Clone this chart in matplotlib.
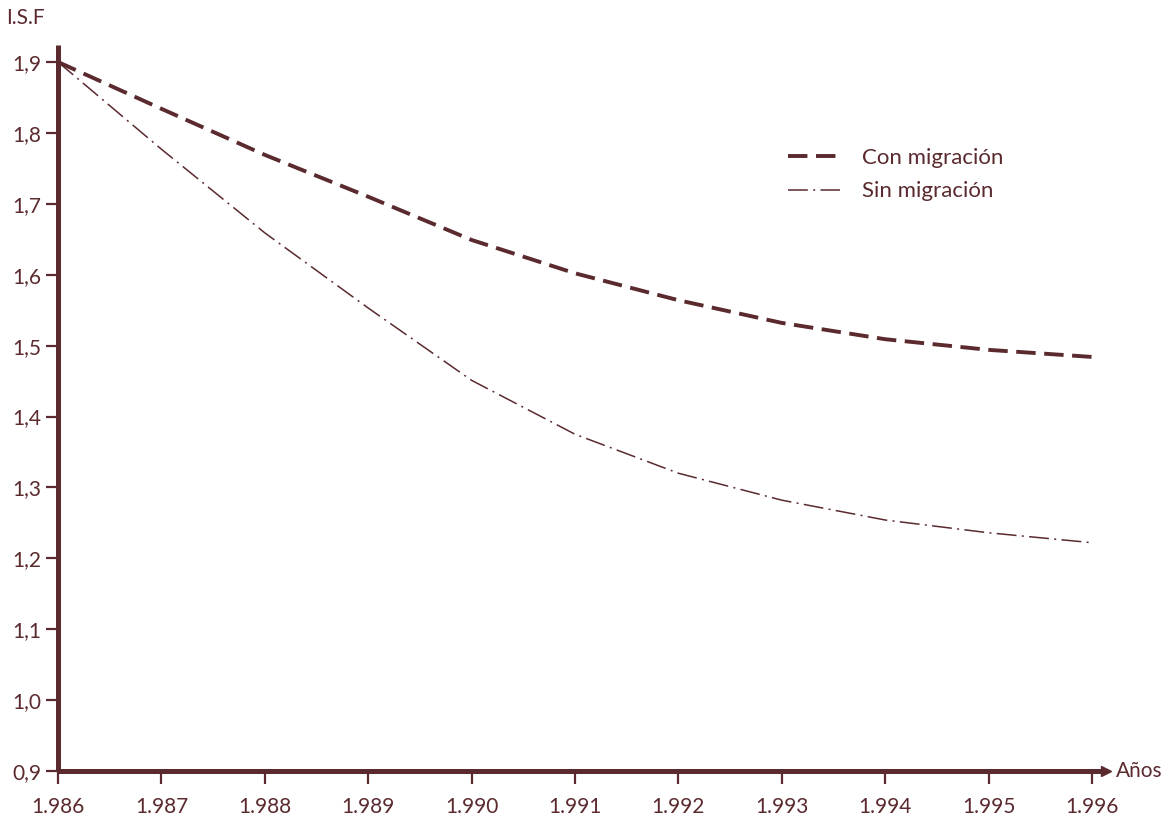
import matplotlib.pyplot as plt
import numpy as np

# Values (I.S.F by year)
years = [1986, 1987, 1988, 1989, 1990, 1991, 1992, 1993, 1994, 1995, 1996]
con_migracion = [1.900, 1.834, 1.769, 1.710, 1.649, 1.602, 1.564, 1.532, 1.509, 1.494, 1.484]
sin_migracion = [1.900, 1.777, 1.659, 1.553, 1.451, 1.375, 1.320, 1.282, 1.254, 1.236, 1.222]

y_ticks = [0.9, 1.0, 1.1, 1.2, 1.3, 1.4, 1.5, 1.6, 1.7, 1.8, 1.9]
y_labels = ["0,9", "1,0", "1,1", "1,2", "1,3", "1,4", "1,5", "1,6", "1,7", "1,8", "1,9"]
x_labels = ["1.986", "1.987", "1.988", "1.989", "1.990", "1.991",
            "1.992", "1.993", "1.994", "1.995", "1.996"]

ink = "#5a2a2e"
plt.rcParams["font.family"] = ["Lato", "DejaVu Sans"]

fig = plt.figure(figsize=(11.65, 8.23), dpi=100)
# axes placed so 1986 sits at x=58px, 0.9 at y=771px
left = 58 / 1165
bottom = (823 - 771) / 823
x_max = 1986 + (1110 - 58) / 103.4
y_max = 0.9 + (771 - 45) / 709
width = (1110 - 58) / 1165
height = (771 - 45) / 823
ax = fig.add_axes([left, bottom, width, height])
ax.set_xlim(1986, x_max)
ax.set_ylim(0.9, y_max)
for s in ax.spines.values():
    s.set_visible(False)

# axis lines
ax.plot([1986, 1986], [0.9, y_max], color=ink, lw=3.6, clip_on=False,
        solid_capstyle="butt", zorder=3)
ax.plot([1986, x_max - 0.05], [0.9, 0.9], color=ink, lw=3.6, clip_on=False,
        solid_capstyle="butt", zorder=3)
ax.plot([x_max - 0.04], [0.9], marker=">", color=ink, ms=7, clip_on=False, zorder=3)

# data lines
l1, = ax.plot(years, con_migracion, color=ink, lw=2.8, label="Con migración")
l1.set_dashes([5.0, 2.2])
l2, = ax.plot(years, sin_migracion, color=ink, lw=1.1, label="Sin migración")
l2.set_dashes([13, 3.5, 1.3, 3.5])

ax.set_xticks(years)
ax.set_xticklabels(x_labels)
ax.set_yticks(y_ticks)
ax.set_yticklabels(y_labels)
ax.tick_params(axis="both", colors=ink, labelsize=15, length=9, width=1.6)
ax.tick_params(axis="x", pad=10)
ax.tick_params(axis="y", pad=3)

fig.text(6 / 1165, 1 - 18 / 823, "I.S.F", fontsize=15, color=ink,
         ha="left", va="center")
fig.text(1116 / 1165, bottom, "Años", fontsize=15, color=ink,
         ha="left", va="center")

leg = ax.legend(loc="upper left", bbox_to_anchor=(768 / 1165, 1 - 128 / 823),
                bbox_transform=fig.transFigure, frameon=False, fontsize=16,
                handlelength=2.35, handletextpad=1.0, labelspacing=0.6,
                labelcolor=ink)

fig.savefig("out.png", dpi=100)
